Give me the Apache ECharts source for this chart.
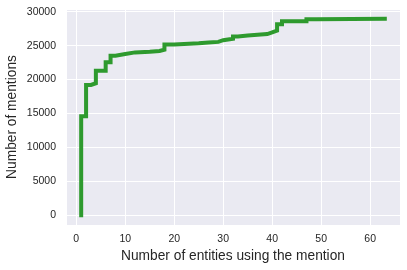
<!DOCTYPE html>
<html>
<head>
<meta charset="utf-8">
<script src="https://cdn.jsdelivr.net/npm/echarts@6/dist/echarts.min.js"></script>
<style>
html,body{margin:0;padding:0;background:#fff;}
#c{width:407px;height:270px;}
</style>
</head>
<body>
<div id="c"></div>
<script>
// Number of entities using the mention (x) and cumulative number of mentions (y)
const entities = [1, 1, 2, 3, 4, 6, 7, 8, 10, 12, 15, 17, 18, 20, 22, 25, 27, 29, 30, 32, 33, 35, 37, 39, 40, 41, 42, 47, 49, 63];
const mentions = [0, 14600, 19200, 19450, 21300, 22550, 23500, 23750, 24000, 24100, 24200, 24400, 25150, 25250, 25350, 25450, 25550, 25800, 26000, 26350, 26500, 26600, 26700, 26950, 27200, 28150, 28600, 28900, 28950, 28950];
const xTitle = 'Number of entities using the mention';
const yTitle = 'Number of mentions';

const points = entities.map((x, i) => [x, mentions[i]]);
const xMinD = Math.min(...entities), xMaxD = Math.max(...entities);
const yMinD = Math.min(...mentions), yMaxD = Math.max(...mentions);
const xPad = (xMaxD - xMinD) * 0.05, yPad = (yMaxD - yMinD) * 0.05;

const font = '"Liberation Sans", Arial, sans-serif';
const textColor = '#262626';

const chart = echarts.init(document.getElementById('c'), null, {renderer: 'canvas'});
chart.setOption({
  animation: false,
  backgroundColor: '#ffffff',
  grid: {left: 66, right: 7, top: 9, bottom: 45, show: true, backgroundColor: '#EAEAF2', borderWidth: 0,
         containLabel: false, outerBoundsMode: 'none'},
  xAxis: {
    type: 'value',
    min: xMinD - xPad,
    max: xMaxD + xPad,
    splitNumber: 6,
    name: xTitle,
    nameLocation: 'middle',
    nameGap: 24,
    nameMoveOverlap: false,
    nameTextStyle: {fontFamily: font, fontSize: 13.75, color: textColor},
    axisLine: {show: false},
    axisTick: {show: false},
    axisLabel: {fontFamily: font, fontSize: 10.5, color: textColor, margin: 9, showMinLabel: false, showMaxLabel: false,
                formatter: v => String(Math.round(v))},
    splitLine: {show: true, lineStyle: {color: '#ffffff', width: 1}}
  },
  yAxis: {
    type: 'value',
    min: yMinD - yPad,
    max: yMaxD + yPad,
    splitNumber: 6,
    name: yTitle,
    nameLocation: 'middle',
    nameGap: 47,
    nameMoveOverlap: false,
    nameTextStyle: {fontFamily: font, fontSize: 13.75, color: textColor},
    axisLine: {show: false},
    axisTick: {show: false},
    axisLabel: {fontFamily: font, fontSize: 10.5, color: textColor, margin: 10, showMinLabel: false, showMaxLabel: false,
                formatter: v => String(Math.round(v))},
    splitLine: {show: true, lineStyle: {color: '#ffffff', width: 1}}
  },
  series: [{
    type: 'line',
    step: 'end',
    data: points,
    showSymbol: false,
    symbol: 'none',
    lineStyle: {color: '#2e9a2e', width: 4, cap: 'square', join: 'miter'}
  }]
});
</script>
</body>
</html>
